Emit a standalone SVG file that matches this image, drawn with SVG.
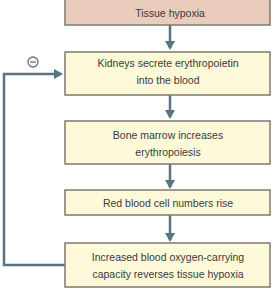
<svg xmlns="http://www.w3.org/2000/svg" width="275" height="290" viewBox="0 0 275 290">
<style>
.box{fill:#fdf9d9;stroke:#7d7a72;stroke-width:1.5}
.pink{fill:#e9ccbb}
.t{font-family:"Liberation Sans",Arial,sans-serif;font-size:10.5px;fill:#3a3a3a;text-anchor:middle}
.c{fill:none;stroke:#587480;stroke-width:2.5}
</style>
<defs>
<marker id="ah" markerWidth="10" markerHeight="10" refX="7" refY="5" orient="auto" markerUnits="userSpaceOnUse">
<path d="M0,0 L9,5 L0,10 Z" fill="#587480"/>
</marker>
</defs>
<rect width="275" height="290" fill="#ffffff"/>
<g id="connectors">
<line class="c" x1="170" y1="25" x2="170" y2="48" marker-end="url(#ah)"/>
<line class="c" x1="170" y1="95" x2="170" y2="117" marker-end="url(#ah)"/>
<line class="c" x1="170" y1="164" x2="170" y2="187" marker-end="url(#ah)"/>
<line class="c" x1="170" y1="215" x2="170" y2="240" marker-end="url(#ah)"/>
<path class="c" d="M65,265 H4 V74 H61" marker-end="url(#ah)"/>
<g id="minus">
<circle cx="33" cy="62" r="5" fill="none" stroke="#587480" stroke-width="1.3"/>
<line x1="30" y1="62" x2="36" y2="62" stroke="#587480" stroke-width="1.3"/>
</g>
</g>
<g id="n1">
<rect class="box pink" x="65" y="-1" width="205" height="26"/>
<text class="t" x="170" y="17">Tissue hypoxia</text>
</g>
<g id="n2">
<rect class="box" x="65" y="52" width="205" height="43"/>
<text class="t" x="168" y="67">Kidneys secrete erythropoietin</text>
<text class="t" x="168" y="84">into the blood</text>
</g>
<g id="n3">
<rect class="box" x="65" y="121" width="205" height="43"/>
<text class="t" x="168" y="139">Bone marrow increases</text>
<text class="t" x="168" y="156">erythropoiesis</text>
</g>
<g id="n4">
<rect class="box" x="65" y="190" width="205" height="25"/>
<text class="t" x="168" y="207">Red blood cell numbers rise</text>
</g>
<g id="n5">
<rect class="box" x="65" y="243" width="205" height="44"/>
<text class="t" x="168" y="261">Increased blood oxygen-carrying</text>
<text class="t" x="168" y="278">capacity reverses tissue hypoxia</text>
</g>
</svg>
